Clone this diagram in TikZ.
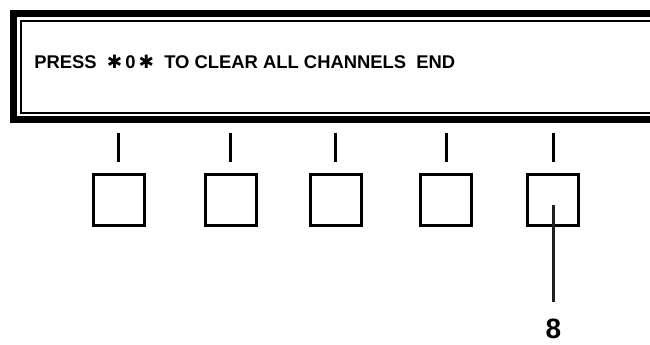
\documentclass[tikz,border=0pt]{standalone}
\usepackage{fontspec}
\setmainfont{Liberation Sans}
\newfontfamily\symfont{DejaVu Sans}
\usetikzlibrary{positioning}
\tikzset{
 key/.style={draw, line width=2.25pt, minimum size=38.25pt, inner sep=0pt},
 tick/.style={line width=2.25pt},
 leader/.style={line width=2.1pt, draw=black!88},
 frameouter/.style={line width=5.25pt},
 frameinner/.style={line width=1.5pt}
}
\newcommand{\starsym}{{\symfont\bfseries ✱}}
\begin{document}
\begin{tikzpicture}[x=0.75pt,y=-0.75pt]
\useasboundingbox (0,0) rectangle (650,345);
\clip (0,0) rectangle (650,345);
% display window
\draw[frameouter] (700,13.5) -- (13.5,13.5) -- (13.5,120) -- (700,120);
\draw[frameinner] (700,21) -- (21,21) -- (21,113) -- (700,113);
\node[anchor=base west, inner sep=0pt, font=\fontsize{13.8}{16}\selectfont\bfseries] (msg) at (34,69)
 {PRESS\ \ \starsym\,0\,\starsym\ \ TO CLEAR ALL CHANNELS\ \ END};
% soft keys
\node[key] (k1) at (118.5,200) {};
\node[key,right=43.7pt of k1] (k2) {};
\node[key,right=38.3pt of k2] (k3) {};
\node[key,right=42.2pt of k3] (k4) {};
\node[key,right=40pt of k4] (k5) {};
\foreach \k in {k1,k2,k3,k4,k5}
 \draw[tick] ([yshift=30pt]\k.north) -- ([yshift=8.25pt]\k.north);
% callout
\node[below=89pt of k5.center, anchor=north, inner sep=0pt, font=\fontsize{21}{23}\selectfont\bfseries] (lbl8) {8};
\draw[leader] ([yshift=-3.75pt]k5.center) -- ([yshift=12.5pt]lbl8.north);
\end{tikzpicture}
\end{document}
